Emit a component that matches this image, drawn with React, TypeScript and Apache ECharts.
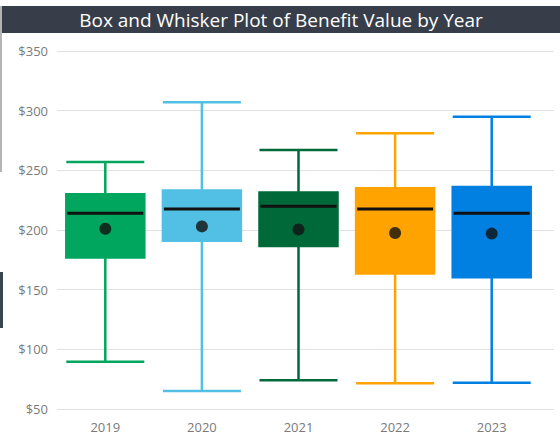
import React, { useEffect, useRef } from "react";
import * as echarts from "echarts";

const categories = ["2019", "2020", "2021", "2022", "2023"];
// [min, Q1, median, Q3, max]
const boxValues = [
  [89.5, 177, 214, 230, 257],
  [65, 191, 217.5, 233, 307],
  [74, 186.5, 220, 231.5, 267],
  [71.5, 163.5, 217.5, 235, 281],
  [72, 160.5, 214, 236, 295],
];
const meanValues = [201, 203, 200.5, 197.5, 197];
const colors = ["#00A65D", "#52C0E4", "#00693A", "#FFA300", "#0180E2"];
const yTicks = { min: 50, max: 350, interval: 50 };
const titleText = "Box and Whisker Plot of Benefit Value by Year";

export default function App() {
  const ref = useRef<HTMLDivElement>(null);
  useEffect(() => {
    if (!ref.current) return;
    const chart = echarts.init(ref.current, null, { renderer: "svg" });
    const font = "'Open Sans', 'Noto Sans', sans-serif";
    chart.setOption({
      animation: false,
      backgroundColor: "#ffffff",
      textStyle: { fontFamily: font },
      graphic: [
        { type: "rect", shape: { x: 2, y: 6, width: 558, height: 27 }, style: { fill: "#373e49" }, z: 10 },
        { type: "rect", shape: { x: 0, y: 6, width: 2, height: 166 }, style: { fill: "#b4b4b4" }, z: 10 },
        { type: "rect", shape: { x: 0, y: 272, width: 3, height: 56 }, style: { fill: "#3a4552" }, z: 10 },
        {
          type: "text",
          x: 281,
          y: 20,
          z: 11,
          style: {
            text: titleText,
            fill: "#ffffff",
            font: `19px ${font}`,
            textAlign: "center",
            textVerticalAlign: "middle",
          },
        },
      ],
      grid: [
        { left: 57, right: 20, top: 51, bottom: 33 },
        { left: 57, right: 6, top: 51, bottom: 33 },
      ],
      xAxis: [
        {
          type: "category",
          data: categories,
          gridIndex: 0,
          axisLine: { show: false },
          axisTick: { show: false },
          axisLabel: { color: "#7a7a7a", fontSize: 13, margin: 11, fontFamily: font },
          splitLine: { show: false },
        },
        { type: "category", data: categories, gridIndex: 1, show: false },
      ],
      yAxis: [
        {
          type: "value",
          gridIndex: 0,
          min: yTicks.min,
          max: yTicks.max,
          interval: yTicks.interval,
          axisLine: { show: false },
          axisTick: { show: false },
          axisLabel: {
            color: "#7a7a7a",
            fontSize: 13,
            margin: 9,
            fontFamily: font,
            formatter: (v: number) => "$" + v,
          },
          splitLine: { show: false },
        },
        {
          type: "value",
          gridIndex: 1,
          min: yTicks.min,
          max: yTicks.max,
          interval: yTicks.interval,
          axisLine: { show: false },
          axisTick: { show: false },
          axisLabel: { show: false },
          splitLine: { show: true, lineStyle: { color: "#e1e1e1", width: 1 } },
        },
      ],
      series: [
        {
          type: "boxplot",
          xAxisIndex: 0,
          yAxisIndex: 0,
          boxWidth: [78, 78],
          z: 2,
          data: boxValues.map((v, i) => ({
            value: v,
            itemStyle: { color: colors[i], borderColor: colors[i], borderWidth: 2.5 },
          })),
        },
        {
          type: "custom",
          xAxisIndex: 0,
          yAxisIndex: 0,
          z: 3,
          data: boxValues.map((v, i) => [i, v[2]]),
          renderItem: (params: any, api: any) => {
            const p = api.coord([api.value(0), api.value(1)]);
            return {
              type: "line",
              shape: { x1: p[0] - 38, y1: p[1], x2: p[0] + 38, y2: p[1] },
              style: { stroke: "#111111", lineWidth: 3 },
            };
          },
        },
        {
          type: "scatter",
          xAxisIndex: 0,
          yAxisIndex: 0,
          z: 4,
          symbol: "circle",
          symbolSize: 12,
          itemStyle: { color: "#111111" },
          data: meanValues.map((m, i) => [i, m]),
        },
      ],
    });
    return () => chart.dispose();
  }, []);
  return <div ref={ref} style={{ width: 560, height: 442, position: "absolute", left: 0, top: 0 }} />;
}
